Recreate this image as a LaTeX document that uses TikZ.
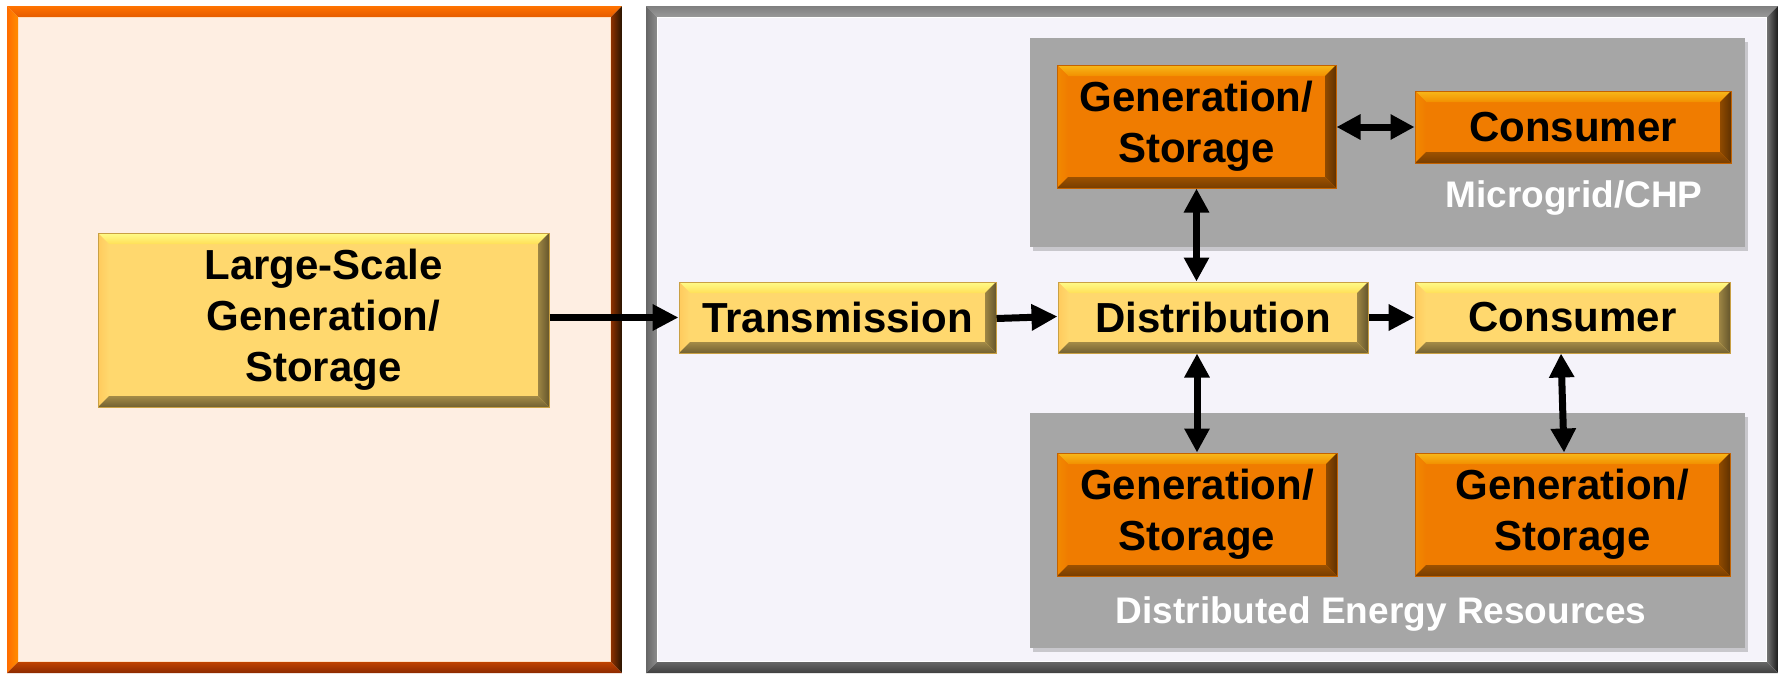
\documentclass[tikz,border=0pt]{standalone}
\usepackage{fontspec}
\setmainfont{Liberation Sans}
\usetikzlibrary{arrows.meta,shadows}
\definecolor{peach}{HTML}{FEEEE2}
\definecolor{lav}{HTML}{F5F3FA}
\definecolor{yface}{HTML}{FFD86E}
\definecolor{ybord}{HTML}{C9A044}
\definecolor{oface}{HTML}{F07C00}
\definecolor{obord}{HTML}{C46200}
\definecolor{panel}{HTML}{A6A6A6}
\tikzset{
  bevel/.style n args={5}{
    path picture={
      \coordinate (bNW) at (path picture bounding box.north west);
      \coordinate (bNE) at (path picture bounding box.north east);
      \coordinate (bSW) at (path picture bounding box.south west);
      \coordinate (bSE) at (path picture bounding box.south east);
      \coordinate (iNW) at ([xshift=#5,yshift=-#5]bNW);
      \coordinate (iNE) at ([xshift=-#5,yshift=-#5]bNE);
      \coordinate (iSW) at ([xshift=#5,yshift=#5]bSW);
      \coordinate (iSE) at ([xshift=-#5,yshift=#5]bSE);
      \path[#1] (bNW) -- (bNE) -- (iNE) -- (iNW) -- cycle;
      \path[#2] (bNW) -- (iNW) -- (iSW) -- (bSW) -- cycle;
      \path[#3] (bNE) -- (bSE) -- (iSE) -- (iNE) -- cycle;
      \path[#4] (bSW) -- (iSW) -- (iSE) -- (bSE) -- cycle;
    }
  },
  boxtext/.style={inner sep=0pt, align=center, text=black,
    font=\fontsize{42}{51}\selectfont\bfseries},
  ybox/.style={boxtext, fill=yface, draw=ybord, line width=1pt,
    bevel={top color=yellow!45!white!90!yface, bottom color=yface!80!yellow}
          {left color=yface!85!orange, right color=yface}
          {left color=yface!55!black!85!yface, right color=yface!40!black}
          {top color=yface!60!black!90!yface, bottom color=yface!45!black}{11pt}},
  obox/.style={boxtext, fill=oface, draw=obord, line width=1pt,
    bevel={top color=oface!60!yellow!90!white, bottom color=oface!85!yellow}
          {left color=oface!90!yellow, right color=oface}
          {left color=oface!60!black, right color=oface!40!black}
          {top color=oface!65!black, bottom color=oface!50!black}{11pt}},
  bigbox/.style={inner sep=0pt},
  panelbox/.style={fill=panel, inner sep=0pt,
    drop shadow={shadow xshift=3pt, shadow yshift=-4pt, opacity=0.18, fill=black}},
  paneltext/.style={text=white, inner sep=0pt,
    font=\fontsize{37}{44}\selectfont\bfseries},
  link/.style={line width=7pt, -{Triangle[length=26pt,width=25pt]}},
  dlink/.style={line width=7pt, {Triangle[length=24pt,width=24pt]}-{Triangle[length=24pt,width=24pt]}},
}
\begin{document}
\begin{tikzpicture}[x=1pt,y=-1pt]
\useasboundingbox (0,0) rectangle (1781,675);
\fill[white] (0,0) rectangle (1781,675);
% big containers
\node[bigbox, fill=peach, minimum width=615pt, minimum height=667pt,
  bevel={top color=orange!90!red, bottom color=orange!80!red!90!black}
        {left color=orange!85!red, right color=orange!90!yellow}
        {left color=orange!70!red!55!black, right color=black!85!orange}
        {top color=orange!70!red!75!black, bottom color=orange!60!red!55!black}{11pt}] (left) at (314.5,339.5) {};
\draw[white!75!orange, line width=1pt] ([xshift=11.5pt,yshift=-11.5pt]left.north west) rectangle ([xshift=-11.5pt,yshift=11.5pt]left.south east);
\node[bigbox, fill=lav, minimum width=1132pt, minimum height=667pt,
  bevel={top color=black!50, bottom color=black!40}
        {left color=black!60, right color=black!45}
        {left color=black!55, right color=black!90}
        {top color=black!60, bottom color=black!75}{11pt}] (right) at (1212,339.5) {};
\draw[white, line width=1pt] ([xshift=11.5pt,yshift=-11.5pt]right.north west) rectangle ([xshift=-11.5pt,yshift=11.5pt]right.south east);
% grey panels
\node[panelbox, minimum width=715pt, minimum height=209pt] (mg) at (1387.5,142.5) {};
\node[panelbox, minimum width=715pt, minimum height=235pt] (der) at (1387.5,530.5) {};
\node[paneltext, anchor=base] (mglabel) at (1574,207) {Microgrid/CHP};
\node[paneltext, anchor=base] (derlabel) at (1381,623) {Distributed Energy Resources};
% boxes
\node[ybox, minimum width=451pt, minimum height=174pt] (ls) at (323.5,320) {Large-Scale\\Generation/\\Storage};
\node[ybox, minimum width=317pt, minimum height=71pt] (trans) at (837.5,317.5) {Transmission};
\node[ybox, minimum width=310pt, minimum height=71pt] (dist) at (1213,317.5) {Distribution};
\node[ybox, minimum width=315pt, minimum height=71pt] (cons) at (1572.5,317.5) {Consumer};
\node[obox, minimum width=279pt, minimum height=123pt] (gentop) at (1196.5,126.5) {Generation/\\Storage};
\node[obox, minimum width=316pt, minimum height=72pt] (constop) at (1573,127) {Consumer};
\node[obox, minimum width=280pt, minimum height=123pt] (genbl) at (1197,514.5) {Generation/\\Storage};
\node[obox, minimum width=315pt, minimum height=123pt] (genbr) at (1572.5,514.5) {Generation/\\Storage};
% connectors
\draw[link] (ls.east |- trans.west) -- (trans.west);
\draw[link] ([yshift=-1pt]trans.east) -- ([yshift=1pt]dist.west);
\draw[link] (dist.east) -- (cons.west);
\draw[dlink] (gentop.south) -- (gentop.south |- dist.north);
\draw[dlink] (gentop.east |- constop.west) -- (constop.west);
\draw[dlink] (genbl.north |- dist.south) -- (genbl.north);
\draw[dlink] ([xshift=-11.5pt]cons.south) -- ([xshift=-8.5pt]genbr.north);
\end{tikzpicture}
\end{document}
